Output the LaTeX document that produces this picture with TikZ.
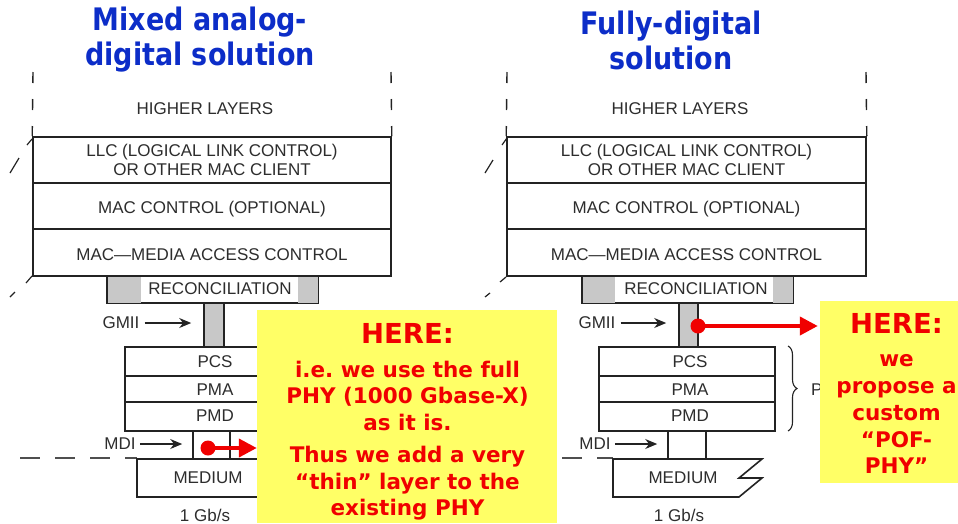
\documentclass[tikz,border=0pt]{standalone}
\usepackage{fontspec}
\setmainfont{Liberation Sans}
\newfontfamily\yfont{DejaVu Sans}
\newfontfamily\tfont[FakeStretch=0.87]{DejaVu Sans}
\usetikzlibrary{arrows.meta,decorations.pathreplacing}
\frenchspacing
\definecolor{txtgray}{RGB}{45,45,45}
\definecolor{linegray}{RGB}{35,35,35}
\definecolor{shadegray}{RGB}{200,200,200}
\definecolor{yellowbg}{RGB}{255,255,102}
\definecolor{redtxt}{RGB}{240,0,0}
\definecolor{titleblue}{RGB}{12,45,200}
\tikzset{
  lay/.style={draw=linegray, line width=1.6pt, fill=white, inner sep=0pt},
  conn/.style={draw=linegray, line width=1.6pt, fill=shadegray, inner sep=0pt},
  lbl/.style={text=txtgray, font=\fontsize{17}{20}\selectfont, inner sep=0pt},
  ylw/.style={fill=yellowbg, draw=none, inner sep=0pt},
  ytxt/.style={text=redtxt, font=\yfont\bfseries\fontsize{21.5}{26}\selectfont, inner sep=0pt, anchor=base},
  heretxt/.style={text=redtxt, font=\yfont\bfseries\fontsize{27.5}{32}\selectfont, inner sep=0pt, anchor=base},
  ttl/.style={text=titleblue, font=\tfont\bfseries\fontsize{31}{35}\selectfont, align=center, inner sep=0pt},
  garr/.style={draw=linegray, line width=1.3pt, -{Stealth[length=12pt,width=10pt]}},
  rarr/.style={draw=redtxt, line width=4pt, -{Triangle[length=18pt,width=18pt]}},
  rdot/.style={circle, fill=redtxt, inner sep=0pt, minimum size=15pt},
  vdash/.style={draw=linegray, line width=1.4pt, dash pattern=on 11pt off 16pt},
  hdash/.style={draw=linegray!80, line width=1.2pt, dash pattern=on 20pt off 15pt},
  slash/.style={draw=linegray, line width=1.2pt}
}
\begin{document}
\begin{tikzpicture}[x=1pt,y=-1pt]
\useasboundingbox (0,0) rectangle (958,523);
% ---------- titles ----------
\node[ttl] (tL) at (200,40) {Mixed analog-\\digital solution};
\node[ttl] (tR) at (671,40) {Fully-digital\\solution};

% ================= LEFT STACK =================
\node[lbl] (hlL) at (205,109) {HIGHER LAYERS};
\node[lay, minimum width=358pt, minimum height=46pt] (llcL) at (212,160) {};
\node[lbl, align=center, font=\fontsize{17}{18.5}\selectfont] at (llcL) {LLC (LOGICAL LINK CONTROL)\\OR OTHER MAC CLIENT};
\node[lay, minimum width=358pt, minimum height=46pt] (mccL) at (212,206) {};
\node[lbl] at (212,209) {MAC CONTROL (OPTIONAL)};
\node[lay, minimum width=358pt, minimum height=47pt] (macL) at (212,252.5) {};
\node[lbl] at (212,255) {MAC\textemdash MEDIA ACCESS CONTROL};
\draw[vdash] (33,72) -- (llcL.north west);
\draw[vdash] (391,72) -- (llcL.north east);
\node[lay, minimum width=211pt, minimum height=27pt] (recL) at (212.5,289.5) {};
\fill[shadegray] (108,277) rectangle (141,302.5);
\fill[shadegray] (298,277) rectangle (317.5,302.5);
\node[lbl] at (220,288.5) {RECONCILIATION};
\node[conn, minimum width=20pt, minimum height=44pt] (gcL) at (214,325) {};
\node[lbl] (gmiiL) at (121,323) {GMII};
\draw[garr] ([xshift=5pt]gmiiL.east) -- ([xshift=-12pt]gmiiL.east -| gcL.west);
\node[lay, minimum width=176pt, minimum height=29pt] (pcsL) at (213,361.5) {};
\node[lbl] at (215,362) {PCS};
\node[lay, minimum width=176pt, minimum height=26pt] (pmaL) at (213,389) {};
\node[lbl] at (215,390) {PMA};
\node[lay, minimum width=176pt, minimum height=29pt] (pmdL) at (213,416.5) {};
\node[lbl] at (215,416) {PMD};
\node[lay, minimum width=60pt, minimum height=28pt] (mdi2L) at (260,445) {};
\node[lay, minimum width=37pt, minimum height=28pt] (mdiL) at (211.5,445) {};
\node[lbl] (mdilL) at (120,444) {MDI};
\draw[garr] ([xshift=4pt]mdilL.east) -- ([xshift=-10pt]mdilL.east -| mdiL.west);
\draw[hdash] (20,458) -- (137,458);
\draw[lay] (137,459) -- (286,459) -- (263,478) -- (286,478) -- (263,497) -- (137,497) -- cycle;
\node[lbl] (medL) at (208,478) {MEDIUM};
\node[lbl] (rateL) at (205,515) {1 Gb/s};
\draw[slash] (10,173) -- (19,158);
\draw[slash] (27,145) -- (32,139);
\draw[slash] (26,283) -- (32,276);
\draw[slash] (10,297) -- (15,292);

% ================= RIGHT STACK =================
\node[lbl] (hlR) at (680,109) {HIGHER LAYERS};
\node[lay, minimum width=359pt, minimum height=46pt] (llcR) at (686.5,160) {};
\node[lbl, align=center, font=\fontsize{17}{18.5}\selectfont] at (llcR) {LLC (LOGICAL LINK CONTROL)\\OR OTHER MAC CLIENT};
\node[lay, minimum width=359pt, minimum height=46pt] (mccR) at (686.5,206) {};
\node[lbl] at (686.5,209) {MAC CONTROL (OPTIONAL)};
\node[lay, minimum width=359pt, minimum height=47pt] (macR) at (686.5,252.5) {};
\node[lbl] at (686.5,255) {MAC\textemdash MEDIA ACCESS CONTROL};
\draw[vdash] (507,72) -- (llcR.north west);
\draw[vdash] (866,72) -- (llcR.north east);
\node[lay, minimum width=211pt, minimum height=27pt] (recR) at (687.5,289.5) {};
\fill[shadegray] (583,277) rectangle (615,302.5);
\fill[shadegray] (773,277) rectangle (792.5,302.5);
\node[lbl] at (696,288.5) {RECONCILIATION};
\node[conn, minimum width=19pt, minimum height=44pt] (gcR) at (688.5,325) {};
\node[lbl] (gmiiR) at (597,323) {GMII};
\draw[garr] ([xshift=5pt]gmiiR.east) -- ([xshift=-12pt]gmiiR.east -| gcR.west);
\node[lay, minimum width=176pt, minimum height=29pt] (pcsR) at (687,361.5) {};
\node[lbl] at (690,362) {PCS};
\node[lay, minimum width=176pt, minimum height=26pt] (pmaR) at (687,389) {};
\node[lbl] at (690,390) {PMA};
\node[lay, minimum width=176pt, minimum height=29pt] (pmdR) at (687,416.5) {};
\node[lbl] at (690,416) {PMD};
\node[lay, minimum width=38pt, minimum height=28pt] (mdiR) at (687,445) {};
\node[lbl] (mdilR) at (595,444) {MDI};
\draw[garr] ([xshift=4pt]mdilR.east) -- ([xshift=-10pt]mdilR.east -| mdiR.west);
\draw[hdash] (562,458) -- (613,458);
\draw[lay] (613,459) -- (762,459) -- (739,478) -- (762,478) -- (739,497) -- (613,497) -- cycle;
\node[lbl] (medR) at (683,478) {MEDIUM};
\node[lbl] (rateR) at (679,515) {1 Gb/s};
\draw[decorate, decoration={brace, amplitude=9pt}, draw=linegray, line width=1.1pt] (788,346) -- (788,431);
\node[lbl, anchor=west] (phyR) at (811,390) {PHY};
\draw[slash] (485,173) -- (493,160);
\draw[slash] (502,145) -- (507,138);
\draw[slash] (500,282) -- (506,277);
\draw[slash] (485,297) -- (490,293);

% ================= YELLOW NOTES =================
\node[ylw, minimum width=300pt, minimum height=213pt] (noteL) at (407,416.5) {};
\node[heretxt] at (407.5,343) {HERE:};
\node[ytxt] at (407.5,377) {i.e. we use the full};
\node[ytxt] at (407.5,403) {PHY (1000 Gbase-X)};
\node[ytxt] at (407.5,430) {as it is.};
\node[ytxt] at (407.5,462) {Thus we add a very};
\node[ytxt] at (407.5,489) {“thin” layer to the};
\node[ytxt] at (407.5,515) {existing PHY};

\node[ylw, minimum width=138pt, minimum height=182pt] (noteR) at (889,392) {};
\node[heretxt] at (896.5,333) {HERE:};
\node[ytxt] at (896.5,366) {we};
\node[ytxt] at (896.5,393) {propose a};
\node[ytxt] at (896.5,420) {custom};
\node[ytxt] at (896.5,447) {“POF-};
\node[ytxt] at (896.5,473) {PHY”};

% ================= RED POINTERS =================
\node[rdot] (dotL) at (208,448) {};
\draw[rarr] (dotL.center) -- (dotL -| noteL.west);
\node[rdot] (dotR) at (698,326) {};
\draw[rarr] (dotR.center) -- ([xshift=-2pt]dotR -| noteR.west);
\end{tikzpicture}
\end{document}
